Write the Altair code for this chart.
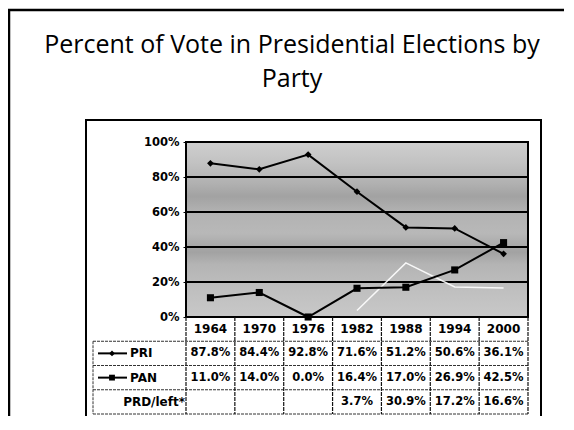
import altair as alt
import pandas as pd

# ---- data ----
years = ["1964", "1970", "1976", "1982", "1988", "1994", "2000"]
pri = [87.8, 84.4, 92.8, 71.6, 51.2, 50.6, 36.1]
pan = [11.0, 14.0, 0.0, 16.4, 17.0, 26.9, 42.5]
prd = [None, None, None, 3.7, 30.9, 17.2, 16.6]
parties = ["PRI", "PAN", "PRD/left*"]
y_ticks = [0, 0.2, 0.4, 0.6, 0.8, 1.0]
grid_ticks = [0.2, 0.4, 0.6, 0.8]
title_lines = ["Percent of Vote in Presidential Elections by", "Party"]

# ---- layout constants (pixels) ----
W, H = 342, 175
FONT = "DejaVu Sans"

rows = []
for pi, (name, vals) in enumerate(zip(parties, [pri, pan, prd])):
    for yr, v in zip(years, vals):
        if v is None:
            continue
        rows.append({"party": name, "year": yr, "share": v / 100.0,
                     "label": f"{v:.1f}%", "trow": pi + 1.5})
df = pd.DataFrame(rows)
hdr = pd.DataFrame({"year": years, "trow": 0.5})
labels = pd.DataFrame({"party": parties, "trow": [1.5, 2.5, 3.5]})
one = alt.Data(values=[{}])

xscale = alt.Scale(type="band", domain=years, paddingInner=0, paddingOuter=0)
yscale = alt.Scale(domain=[0, 1])
tscale = alt.Scale(domain=[0, 4], range=[H, H + 97])


def X(band=0.5):
    return alt.X("year:O", scale=xscale, axis=None, bandPosition=band)


gradient = alt.LinearGradient(
    gradient="linear", x1=0, x2=0, y1=0, y2=1,
    stops=[
        alt.GradientStop(offset=0.0, color="#cfcfcf"),
        alt.GradientStop(offset=0.12, color="#c2c2c2"),
        alt.GradientStop(offset=0.24, color="#b0b0b0"),
        alt.GradientStop(offset=0.31, color="#a2a2a2"),
        alt.GradientStop(offset=0.40, color="#b2b2b2"),
        alt.GradientStop(offset=0.52, color="#b8b8b8"),
        alt.GradientStop(offset=0.63, color="#a2a2a2"),
        alt.GradientStop(offset=0.70, color="#b4b4b4"),
        alt.GradientStop(offset=0.86, color="#c0c0c0"),
        alt.GradientStop(offset=1.0, color="#c8c8c8"),
    ],
)

# slide frame
slide_left = alt.Chart(one).mark_rule(color="black", strokeWidth=2.5).encode(
    x=alt.value(-177), y=alt.value(-132), y2=alt.value(300))
slide_top = alt.Chart(one).mark_rule(color="black", strokeWidth=2.5).encode(
    x=alt.value(-178), x2=alt.value(400), y=alt.value(-132))

# title
title1 = alt.Chart(one).mark_text(font="Open Sans", fontSize=25, color="black",
                                  align="center", baseline="alphabetic").encode(
    x=alt.value(106), y=alt.value(-89), text=alt.value(title_lines[0]))
title2 = alt.Chart(one).mark_text(font="Open Sans", fontSize=25, color="black",
                                  align="center", baseline="alphabetic").encode(
    x=alt.value(106), y=alt.value(-55), text=alt.value(title_lines[1]))

# inner chart box
inner_box = alt.Chart(one).mark_rect(fillOpacity=0, stroke="black", strokeWidth=2).encode(
    x=alt.value(-100), x2=alt.value(355), y=alt.value(-22), y2=alt.value(300))

# plot area background
plot_bg = alt.Chart(one).mark_rect(color=gradient).encode(
    x=alt.value(0), x2=alt.value(W), y=alt.value(0), y2=alt.value(H))

# gridlines + y axis
grid = alt.Chart(pd.DataFrame({"share": grid_ticks})).mark_rule(
    color="black", strokeWidth=2).encode(
    x=alt.value(0), x2=alt.value(W),
    y=alt.Y("share:Q", scale=yscale,
            axis=alt.Axis(values=y_ticks, format=".0%", labelFont=FONT,
                          labelFontWeight="bold", labelFontSize=11.5,
                          labelColor="black", tickColor="black", tickSize=3,
                          labelPadding=4, domain=False, grid=False, title=None)))

plot_border = alt.Chart(one).mark_rect(fillOpacity=0, stroke="black", strokeWidth=2).encode(
    x=alt.value(0), x2=alt.value(W), y=alt.value(0), y2=alt.value(H))

# table grid
hstyle = dict(color="#333333", strokeWidth=1, strokeDash=[3, 1])
vstyle = dict(color="#111111", strokeWidth=1.2, strokeDash=[4, 1])
hlines = alt.Chart(pd.DataFrame({"t": [1, 2, 3, 4]})).mark_rule(**hstyle).encode(
    x=alt.value(-93), x2=alt.value(W),
    y=alt.Y("t:Q", scale=tscale, axis=None))
vlines = alt.Chart(pd.DataFrame({"year": years, "t0": 0, "t1": 4})).mark_rule(**vstyle).encode(
    x=X(0), y=alt.Y("t0:Q", scale=tscale, axis=None), y2="t1:Q")
vright = alt.Chart(pd.DataFrame({"year": [years[-1]], "t0": [0], "t1": [4]})).mark_rule(**vstyle).encode(
    x=X(1), y=alt.Y("t0:Q", scale=tscale, axis=None), y2="t1:Q")
vleft = alt.Chart(pd.DataFrame({"t0": [1], "t1": [4]})).mark_rule(**hstyle).encode(
    x=alt.value(-93), y=alt.Y("t0:Q", scale=tscale, axis=None), y2="t1:Q")

# table text
hdr_text = alt.Chart(hdr).mark_text(font=FONT, fontWeight="bold", fontSize=12,
                                    color="black").encode(
    x=X(), y=alt.Y("trow:Q", scale=tscale, axis=None), text="year:N")
val_text = alt.Chart(df).mark_text(font=FONT, fontWeight="bold", fontSize=11.5,
                                   color="black").encode(
    x=X(), y=alt.Y("trow:Q", scale=tscale, axis=None), text="label:N")

lab_main = alt.Chart(labels).transform_filter(
    alt.FieldOneOfPredicate(field="party", oneOf=parties[:2])).mark_text(
    font=FONT, fontWeight="bold", fontSize=12, color="black", align="left").encode(
    x=alt.value(-56), y=alt.Y("trow:Q", scale=tscale, axis=None), text="party:N")
lab_prd = alt.Chart(labels).transform_filter(
    alt.FieldEqualPredicate(field="party", equal=parties[2])).mark_text(
    font=FONT, fontWeight="bold", fontSize=12, color="black", align="right").encode(
    x=alt.value(-1), y=alt.Y("trow:Q", scale=tscale, axis=None), text="party:N")

key_lines = alt.Chart(labels).transform_filter(
    alt.FieldOneOfPredicate(field="party", oneOf=parties[:2])).mark_rule(
    color="black", strokeWidth=2).encode(
    x=alt.value(-88), x2=alt.value(-59), y=alt.Y("trow:Q", scale=tscale, axis=None))
key_pts = alt.Chart(labels).transform_filter(
    alt.FieldOneOfPredicate(field="party", oneOf=parties[:2])).mark_point(
    filled=True, color="black", opacity=1, size=34).encode(
    x=alt.value(-74), y=alt.Y("trow:Q", scale=tscale, axis=None),
    shape=alt.Shape("party:N", scale=alt.Scale(domain=parties[:2], range=["diamond", "square"]),
                    legend=None))

# series
d_pri = df[df.party == "PRI"]
d_pan = df[df.party == "PAN"]
d_prd = df[df.party == "PRD/left*"]
Yv = alt.Y("share:Q", scale=yscale, axis=None)

prd_line = alt.Chart(d_prd).mark_line(color="white", strokeWidth=1.5, opacity=0.9).encode(x=X(), y=Yv)
pri_line = alt.Chart(d_pri).mark_line(color="black", strokeWidth=2).encode(x=X(), y=Yv)
pri_pts = alt.Chart(d_pri).mark_point(shape="diamond", filled=True, color="black",
                                      opacity=1, size=45).encode(x=X(), y=Yv)
pan_line = alt.Chart(d_pan).mark_line(color="black", strokeWidth=2).encode(x=X(), y=Yv)
pan_pts = alt.Chart(d_pan).mark_point(shape="square", filled=True, color="black",
                                      opacity=1, size=50).encode(x=X(), y=Yv)

chart = alt.layer(
    slide_left, slide_top, title1, title2, inner_box,
    plot_bg, grid, plot_border,
    hlines, vlines, vright, vleft, hdr_text, val_text, lab_main, lab_prd,
    key_lines, key_pts,
    prd_line, pri_line, pri_pts, pan_line, pan_pts,
).resolve_scale(y="independent").properties(
    width=W, height=H,
    autosize=alt.AutoSizeParams(type="none"),
    padding={"left": 178, "top": 134, "right": 36, "bottom": 99},
    background="white",
).configure_view(stroke=None)

chart.save("out.html", embed_options={"renderer": "svg", "actions": False})
